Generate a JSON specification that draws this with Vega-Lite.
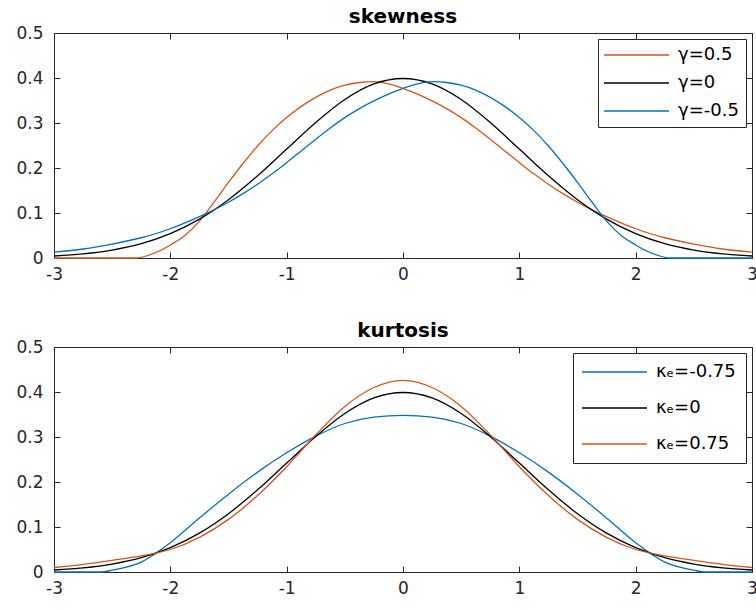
{
  "$schema": "https://vega.github.io/schema/vega-lite/v6.json",
  "padding": {"left": 5, "top": 7, "right": 0, "bottom": 0},
  "spacing": 39,
  "config": {
    "font": "DejaVu Sans",
    "view": {"stroke": null},
    "axis": {"grid": false, "domainColor": "#262626", "tickColor": "#262626", "labelColor": "#262626", "labelFontSize": 17, "tickSize": -6, "title": null, "domainWidth": 1, "tickWidth": 1, "labelOverlap": false, "labelFlush": false},
    "title": {"fontSize": 20, "fontWeight": "bold", "color": "#000000", "offset": -3, "frame": "group"},
    "legend": {"orient": "top-right", "offset": 6, "title": null, "strokeColor": "#262626", "fillColor": "white", "symbolType": "M-2,0H11", "symbolSize": 100, "symbolStrokeWidth": 1.3, "labelFontSize": 18, "labelOffset": 55, "labelColor": "#000000"}
  },
  "resolve": {"scale": {"color": "independent"}, "legend": {"color": "independent"}},
  "vconcat": [
    {
      "title": "skewness",
      "width": 698,
      "height": 225,
      "data": {"values": [
        {"x": -3, "y": 0, "s": "γ=0.5"},
        {"x": -2.75, "y": 0, "s": "γ=0.5"},
        {"x": -2.5, "y": 0, "s": "γ=0.5"},
        {"x": -2.3, "y": 0, "s": "γ=0.5"},
        {"x": -2.2, "y": 0.005, "s": "γ=0.5"},
        {"x": -2.1, "y": 0.015, "s": "γ=0.5"},
        {"x": -2, "y": 0.029, "s": "γ=0.5"},
        {"x": -1.875, "y": 0.05, "s": "γ=0.5"},
        {"x": -1.75, "y": 0.082, "s": "γ=0.5"},
        {"x": -1.625, "y": 0.124, "s": "γ=0.5"},
        {"x": -1.5, "y": 0.168, "s": "γ=0.5"},
        {"x": -1.375, "y": 0.21, "s": "γ=0.5"},
        {"x": -1.25, "y": 0.249, "s": "γ=0.5"},
        {"x": -1.125, "y": 0.283, "s": "γ=0.5"},
        {"x": -1, "y": 0.312, "s": "γ=0.5"},
        {"x": -0.875, "y": 0.337, "s": "γ=0.5"},
        {"x": -0.75, "y": 0.357, "s": "γ=0.5"},
        {"x": -0.625, "y": 0.373, "s": "γ=0.5"},
        {"x": -0.5, "y": 0.384, "s": "γ=0.5"},
        {"x": -0.375, "y": 0.39, "s": "γ=0.5"},
        {"x": -0.25, "y": 0.392, "s": "γ=0.5"},
        {"x": -0.125, "y": 0.387, "s": "γ=0.5"},
        {"x": 0, "y": 0.377, "s": "γ=0.5"},
        {"x": 0.125, "y": 0.364, "s": "γ=0.5"},
        {"x": 0.25, "y": 0.349, "s": "γ=0.5"},
        {"x": 0.375, "y": 0.332, "s": "γ=0.5"},
        {"x": 0.5, "y": 0.312, "s": "γ=0.5"},
        {"x": 0.625, "y": 0.289, "s": "γ=0.5"},
        {"x": 0.75, "y": 0.264, "s": "γ=0.5"},
        {"x": 0.875, "y": 0.238, "s": "γ=0.5"},
        {"x": 1, "y": 0.212, "s": "γ=0.5"},
        {"x": 1.125, "y": 0.187, "s": "γ=0.5"},
        {"x": 1.25, "y": 0.164, "s": "γ=0.5"},
        {"x": 1.375, "y": 0.143, "s": "γ=0.5"},
        {"x": 1.5, "y": 0.124, "s": "γ=0.5"},
        {"x": 1.625, "y": 0.107, "s": "γ=0.5"},
        {"x": 1.75, "y": 0.092, "s": "γ=0.5"},
        {"x": 1.875, "y": 0.078, "s": "γ=0.5"},
        {"x": 2, "y": 0.065, "s": "γ=0.5"},
        {"x": 2.25, "y": 0.045, "s": "γ=0.5"},
        {"x": 2.5, "y": 0.031, "s": "γ=0.5"},
        {"x": 2.75, "y": 0.02, "s": "γ=0.5"},
        {"x": 3, "y": 0.013, "s": "γ=0.5"},
        {"x": -3, "y": 0.0044, "s": "γ=0"},
        {"x": -2.75, "y": 0.0091, "s": "γ=0"},
        {"x": -2.5, "y": 0.0175, "s": "γ=0"},
        {"x": -2.25, "y": 0.0317, "s": "γ=0"},
        {"x": -2, "y": 0.054, "s": "γ=0"},
        {"x": -1.75, "y": 0.0863, "s": "γ=0"},
        {"x": -1.5, "y": 0.1295, "s": "γ=0"},
        {"x": -1.25, "y": 0.1826, "s": "γ=0"},
        {"x": -1, "y": 0.242, "s": "γ=0"},
        {"x": -0.75, "y": 0.3011, "s": "γ=0"},
        {"x": -0.5, "y": 0.3521, "s": "γ=0"},
        {"x": -0.25, "y": 0.3867, "s": "γ=0"},
        {"x": 0, "y": 0.3989, "s": "γ=0"},
        {"x": 0.25, "y": 0.3867, "s": "γ=0"},
        {"x": 0.5, "y": 0.3521, "s": "γ=0"},
        {"x": 0.75, "y": 0.3011, "s": "γ=0"},
        {"x": 1, "y": 0.242, "s": "γ=0"},
        {"x": 1.25, "y": 0.1826, "s": "γ=0"},
        {"x": 1.5, "y": 0.1295, "s": "γ=0"},
        {"x": 1.75, "y": 0.0863, "s": "γ=0"},
        {"x": 2, "y": 0.054, "s": "γ=0"},
        {"x": 2.25, "y": 0.0317, "s": "γ=0"},
        {"x": 2.5, "y": 0.0175, "s": "γ=0"},
        {"x": 2.75, "y": 0.0091, "s": "γ=0"},
        {"x": 3, "y": 0.0044, "s": "γ=0"},
        {"x": -3, "y": 0.013, "s": "γ=-0.5"},
        {"x": -2.75, "y": 0.02, "s": "γ=-0.5"},
        {"x": -2.5, "y": 0.031, "s": "γ=-0.5"},
        {"x": -2.25, "y": 0.045, "s": "γ=-0.5"},
        {"x": -2, "y": 0.065, "s": "γ=-0.5"},
        {"x": -1.875, "y": 0.078, "s": "γ=-0.5"},
        {"x": -1.75, "y": 0.092, "s": "γ=-0.5"},
        {"x": -1.625, "y": 0.107, "s": "γ=-0.5"},
        {"x": -1.5, "y": 0.124, "s": "γ=-0.5"},
        {"x": -1.375, "y": 0.143, "s": "γ=-0.5"},
        {"x": -1.25, "y": 0.164, "s": "γ=-0.5"},
        {"x": -1.125, "y": 0.187, "s": "γ=-0.5"},
        {"x": -1, "y": 0.212, "s": "γ=-0.5"},
        {"x": -0.875, "y": 0.238, "s": "γ=-0.5"},
        {"x": -0.75, "y": 0.264, "s": "γ=-0.5"},
        {"x": -0.625, "y": 0.289, "s": "γ=-0.5"},
        {"x": -0.5, "y": 0.312, "s": "γ=-0.5"},
        {"x": -0.375, "y": 0.332, "s": "γ=-0.5"},
        {"x": -0.25, "y": 0.349, "s": "γ=-0.5"},
        {"x": -0.125, "y": 0.364, "s": "γ=-0.5"},
        {"x": 0, "y": 0.377, "s": "γ=-0.5"},
        {"x": 0.125, "y": 0.387, "s": "γ=-0.5"},
        {"x": 0.25, "y": 0.392, "s": "γ=-0.5"},
        {"x": 0.375, "y": 0.39, "s": "γ=-0.5"},
        {"x": 0.5, "y": 0.384, "s": "γ=-0.5"},
        {"x": 0.625, "y": 0.373, "s": "γ=-0.5"},
        {"x": 0.75, "y": 0.357, "s": "γ=-0.5"},
        {"x": 0.875, "y": 0.337, "s": "γ=-0.5"},
        {"x": 1, "y": 0.312, "s": "γ=-0.5"},
        {"x": 1.125, "y": 0.283, "s": "γ=-0.5"},
        {"x": 1.25, "y": 0.249, "s": "γ=-0.5"},
        {"x": 1.375, "y": 0.21, "s": "γ=-0.5"},
        {"x": 1.5, "y": 0.168, "s": "γ=-0.5"},
        {"x": 1.625, "y": 0.124, "s": "γ=-0.5"},
        {"x": 1.75, "y": 0.082, "s": "γ=-0.5"},
        {"x": 1.875, "y": 0.05, "s": "γ=-0.5"},
        {"x": 2, "y": 0.029, "s": "γ=-0.5"},
        {"x": 2.1, "y": 0.015, "s": "γ=-0.5"},
        {"x": 2.2, "y": 0.005, "s": "γ=-0.5"},
        {"x": 2.3, "y": 0, "s": "γ=-0.5"},
        {"x": 2.5, "y": 0, "s": "γ=-0.5"},
        {"x": 2.75, "y": 0, "s": "γ=-0.5"},
        {"x": 3, "y": 0, "s": "γ=-0.5"}
      ]},
      "layer": [
        {
          "mark": {"type": "line", "interpolate": "monotone", "strokeWidth": 1.3},
          "encoding": {
            "x": {"field": "x", "type": "quantitative", "scale": {"domain": [-3, 3], "nice": false, "zero": false}, "axis": {"orient": "bottom", "values": [-3, -2, -1, 0, 1, 2, 3], "labelExpr": "'' + datum.value", "labelPadding": 14, "minExtent": 0}},
            "y": {"field": "y", "type": "quantitative", "scale": {"domain": [0, 0.5], "nice": false}, "axis": {"orient": "left", "values": [0, 0.1, 0.2, 0.3, 0.4, 0.5], "labelExpr": "'' + datum.value", "labelPadding": 17, "minExtent": 49, "maxExtent": 49}},
            "color": {"field": "s", "type": "nominal", "scale": {"domain": ["γ=0.5", "γ=0", "γ=-0.5"], "range": ["#D95319", "#000000", "#0072BD"]}, "legend": {"padding": 7, "rowPadding": 10}}
          }
        },
        {
          "mark": {"type": "line", "opacity": 0},
          "encoding": {
            "x": {"field": "x", "type": "quantitative", "axis": {"orient": "top", "labels": false, "values": [-3, -2, -1, 0, 1, 2, 3], "minExtent": 0, "maxExtent": 0}},
            "y": {"field": "y", "type": "quantitative", "axis": {"orient": "right", "labels": false, "values": [0, 0.1, 0.2, 0.3, 0.4, 0.5], "minExtent": 0, "maxExtent": 0}},
            "detail": {"field": "s"}
          }
        }
      ],
      "resolve": {"axis": {"x": "independent", "y": "independent"}}
    },
    {
      "title": "kurtosis",
      "width": 698,
      "height": 225,
      "data": {"values": [
        {"x": -3, "y": 0, "s": "κₑ=-0.75"},
        {"x": -2.75, "y": 0, "s": "κₑ=-0.75"},
        {"x": -2.6, "y": 0, "s": "κₑ=-0.75"},
        {"x": -2.5, "y": 0.004, "s": "κₑ=-0.75"},
        {"x": -2.25, "y": 0.022, "s": "κₑ=-0.75"},
        {"x": -2, "y": 0.065, "s": "κₑ=-0.75"},
        {"x": -1.75, "y": 0.12, "s": "κₑ=-0.75"},
        {"x": -1.5, "y": 0.173, "s": "κₑ=-0.75"},
        {"x": -1.25, "y": 0.222, "s": "κₑ=-0.75"},
        {"x": -1, "y": 0.265, "s": "κₑ=-0.75"},
        {"x": -0.75, "y": 0.302, "s": "κₑ=-0.75"},
        {"x": -0.5, "y": 0.33, "s": "κₑ=-0.75"},
        {"x": -0.25, "y": 0.344, "s": "κₑ=-0.75"},
        {"x": 0, "y": 0.348, "s": "κₑ=-0.75"},
        {"x": 0.25, "y": 0.344, "s": "κₑ=-0.75"},
        {"x": 0.5, "y": 0.33, "s": "κₑ=-0.75"},
        {"x": 0.75, "y": 0.302, "s": "κₑ=-0.75"},
        {"x": 1, "y": 0.265, "s": "κₑ=-0.75"},
        {"x": 1.25, "y": 0.222, "s": "κₑ=-0.75"},
        {"x": 1.5, "y": 0.173, "s": "κₑ=-0.75"},
        {"x": 1.75, "y": 0.12, "s": "κₑ=-0.75"},
        {"x": 2, "y": 0.065, "s": "κₑ=-0.75"},
        {"x": 2.25, "y": 0.022, "s": "κₑ=-0.75"},
        {"x": 2.5, "y": 0.004, "s": "κₑ=-0.75"},
        {"x": 2.6, "y": 0, "s": "κₑ=-0.75"},
        {"x": 2.75, "y": 0, "s": "κₑ=-0.75"},
        {"x": 3, "y": 0, "s": "κₑ=-0.75"},
        {"x": -3, "y": 0.0044, "s": "κₑ=0"},
        {"x": -2.75, "y": 0.0091, "s": "κₑ=0"},
        {"x": -2.5, "y": 0.0175, "s": "κₑ=0"},
        {"x": -2.25, "y": 0.0317, "s": "κₑ=0"},
        {"x": -2, "y": 0.054, "s": "κₑ=0"},
        {"x": -1.75, "y": 0.0863, "s": "κₑ=0"},
        {"x": -1.5, "y": 0.1295, "s": "κₑ=0"},
        {"x": -1.25, "y": 0.1826, "s": "κₑ=0"},
        {"x": -1, "y": 0.242, "s": "κₑ=0"},
        {"x": -0.75, "y": 0.3011, "s": "κₑ=0"},
        {"x": -0.5, "y": 0.3521, "s": "κₑ=0"},
        {"x": -0.25, "y": 0.3867, "s": "κₑ=0"},
        {"x": 0, "y": 0.3989, "s": "κₑ=0"},
        {"x": 0.25, "y": 0.3867, "s": "κₑ=0"},
        {"x": 0.5, "y": 0.3521, "s": "κₑ=0"},
        {"x": 0.75, "y": 0.3011, "s": "κₑ=0"},
        {"x": 1, "y": 0.242, "s": "κₑ=0"},
        {"x": 1.25, "y": 0.1826, "s": "κₑ=0"},
        {"x": 1.5, "y": 0.1295, "s": "κₑ=0"},
        {"x": 1.75, "y": 0.0863, "s": "κₑ=0"},
        {"x": 2, "y": 0.054, "s": "κₑ=0"},
        {"x": 2.25, "y": 0.0317, "s": "κₑ=0"},
        {"x": 2.5, "y": 0.0175, "s": "κₑ=0"},
        {"x": 2.75, "y": 0.0091, "s": "κₑ=0"},
        {"x": 3, "y": 0.0044, "s": "κₑ=0"},
        {"x": -3, "y": 0.01, "s": "κₑ=0.75"},
        {"x": -2.75, "y": 0.017, "s": "κₑ=0.75"},
        {"x": -2.5, "y": 0.026, "s": "κₑ=0.75"},
        {"x": -2.25, "y": 0.036, "s": "κₑ=0.75"},
        {"x": -2, "y": 0.05, "s": "κₑ=0.75"},
        {"x": -1.75, "y": 0.077, "s": "κₑ=0.75"},
        {"x": -1.5, "y": 0.117, "s": "κₑ=0.75"},
        {"x": -1.25, "y": 0.17, "s": "κₑ=0.75"},
        {"x": -1, "y": 0.234, "s": "κₑ=0.75"},
        {"x": -0.75, "y": 0.305, "s": "κₑ=0.75"},
        {"x": -0.5, "y": 0.368, "s": "κₑ=0.75"},
        {"x": -0.25, "y": 0.41, "s": "κₑ=0.75"},
        {"x": 0, "y": 0.426, "s": "κₑ=0.75"},
        {"x": 0.25, "y": 0.41, "s": "κₑ=0.75"},
        {"x": 0.5, "y": 0.368, "s": "κₑ=0.75"},
        {"x": 0.75, "y": 0.305, "s": "κₑ=0.75"},
        {"x": 1, "y": 0.234, "s": "κₑ=0.75"},
        {"x": 1.25, "y": 0.17, "s": "κₑ=0.75"},
        {"x": 1.5, "y": 0.117, "s": "κₑ=0.75"},
        {"x": 1.75, "y": 0.077, "s": "κₑ=0.75"},
        {"x": 2, "y": 0.05, "s": "κₑ=0.75"},
        {"x": 2.25, "y": 0.036, "s": "κₑ=0.75"},
        {"x": 2.5, "y": 0.026, "s": "κₑ=0.75"},
        {"x": 2.75, "y": 0.017, "s": "κₑ=0.75"},
        {"x": 3, "y": 0.01, "s": "κₑ=0.75"}
      ]},
      "layer": [
        {
          "mark": {"type": "line", "interpolate": "monotone", "strokeWidth": 1.3},
          "encoding": {
            "x": {"field": "x", "type": "quantitative", "scale": {"domain": [-3, 3], "nice": false, "zero": false}, "axis": {"orient": "bottom", "values": [-3, -2, -1, 0, 1, 2, 3], "labelExpr": "'' + datum.value", "labelPadding": 14, "minExtent": 0}},
            "y": {"field": "y", "type": "quantitative", "scale": {"domain": [0, 0.5], "nice": false}, "axis": {"orient": "left", "values": [0, 0.1, 0.2, 0.3, 0.4, 0.5], "labelExpr": "'' + datum.value", "labelPadding": 17, "minExtent": 49, "maxExtent": 49}},
            "color": {"field": "s", "type": "nominal", "scale": {"domain": ["κₑ=-0.75", "κₑ=0", "κₑ=0.75"], "range": ["#0072BD", "#000000", "#D95319"]}, "legend": {"padding": 10, "rowPadding": 18}}
          }
        },
        {
          "mark": {"type": "line", "opacity": 0},
          "encoding": {
            "x": {"field": "x", "type": "quantitative", "axis": {"orient": "top", "labels": false, "values": [-3, -2, -1, 0, 1, 2, 3], "minExtent": 0, "maxExtent": 0}},
            "y": {"field": "y", "type": "quantitative", "axis": {"orient": "right", "labels": false, "values": [0, 0.1, 0.2, 0.3, 0.4, 0.5], "minExtent": 0, "maxExtent": 0}},
            "detail": {"field": "s"}
          }
        }
      ],
      "resolve": {"axis": {"x": "independent", "y": "independent"}}
    }
  ]
}
